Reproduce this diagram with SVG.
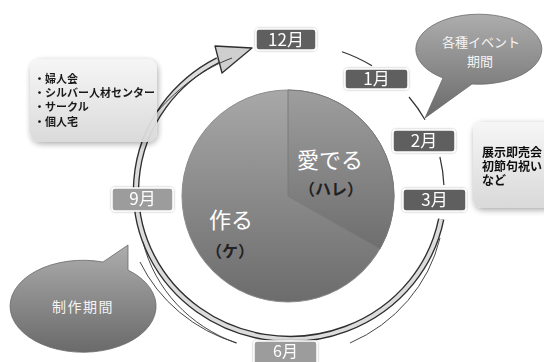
<svg xmlns="http://www.w3.org/2000/svg" width="544" height="362" viewBox="0 0 544 362">
<defs>
<linearGradient id="pieG" x1="0" y1="0" x2="0" y2="1">
<stop offset="0" stop-color="#a8a8a8"/><stop offset="1" stop-color="#6c6c6c"/>
</linearGradient>
<linearGradient id="sliceG" x1="0" y1="0" x2="0" y2="1">
<stop offset="0" stop-color="#9e9e9e"/><stop offset="1" stop-color="#6e6e6e"/>
</linearGradient>
<linearGradient id="bubG" x1="0" y1="0" x2="0" y2="1">
<stop offset="0" stop-color="#adadad"/><stop offset="1" stop-color="#6a6a6a"/>
</linearGradient>
<linearGradient id="boxG" x1="0" y1="0" x2="0" y2="1">
<stop offset="0" stop-color="#f6f6f6"/><stop offset="1" stop-color="#d9d9d9"/>
</linearGradient>
<filter id="soft" x="-20%" y="-20%" width="140%" height="140%">
<feGaussianBlur in="SourceAlpha" stdDeviation="3"/>
<feOffset dx="1" dy="2"/>
<feComponentTransfer><feFuncA type="linear" slope="0.35"/></feComponentTransfer>
<feMerge><feMergeNode/><feMergeNode in="SourceGraphic"/></feMerge>
</filter>
<filter id="lsh" x="-20%" y="-30%" width="140%" height="160%">
<feGaussianBlur in="SourceAlpha" stdDeviation="1"/>
<feComponentTransfer><feFuncA type="linear" slope="0.35"/></feComponentTransfer>
<feMerge><feMergeNode/><feMergeNode in="SourceGraphic"/></feMerge>
</filter>
</defs>
<style>
text{font-family:"Noto Sans CJK JP","Noto Sans",sans-serif}
.lab rect{stroke:#ffffff;stroke-width:1.5}
.dk rect{fill:#5f5f5f}
.lt rect{fill:#9c9c9c}
.lab text{fill:#ffffff;font-size:17px;text-anchor:middle}
.seg{fill:none;stroke:#333333;stroke-width:1.2}
.sk{fill:none;stroke:#333333;stroke-width:0.9}
.bub path{fill:url(#bubG);stroke:#6a6a6a;stroke-width:0.8}
.bub text{fill:#f4f4f4;text-anchor:middle}
.box rect{fill:url(#boxG)}
.box text{font-family:"Liberation Sans","Noto Sans CJK JP",sans-serif;font-weight:bold;fill:#111111}
.pt{fill:#ffffff;font-size:22px;text-anchor:middle}
.ps{fill:#222222;font-size:16px;font-weight:bold;text-anchor:middle}
</style>

<g id="pie">
<circle cx="288" cy="196" r="106" fill="url(#pieG)" stroke="#8c8c8c" stroke-width="1"/>
<path d="M288 196 L288 90 A106 106 0 0 1 379.8 249 Z" fill="url(#sliceG)" stroke="#7a7a7a" stroke-width="1"/>
<text class="pt" x="330" y="168">愛でる</text>
<text class="ps" x="331" y="195">（ハレ）</text>
<text class="pt" x="231" y="228">作る</text>
<text class="ps" x="230" y="257">（ケ）</text>
</g>

<g id="connectors">
<path class="seg" d="M342 51.7 A154 148 0 0 1 372 65.7"/>
<path class="seg" d="M409 97 A154 148 0 0 1 425 119.7"/>
<path class="seg" d="M439.9 157 A154 148 0 0 1 443.9 185"/>
<path d="M441.2 219.2 A154 148 0 1 1 217.9 60.2" fill="none" stroke="#2e2e2e" stroke-width="6.5"/>
<path d="M441.2 219.2 A154 148 0 1 1 217.9 60.2" fill="none" stroke="#dcdcdc" stroke-width="3.8"/>
<polygon points="252,48 215,46 222,73" fill="#cfcfcf" stroke="#2e2e2e" stroke-width="1.3" stroke-linejoin="round"/>
<path class="sk" d="M440 238 A160 153 0 0 1 350 343"/>
<path class="sk" d="M237 343 A160 153 0 0 1 140 262"/>
<path class="sk" d="M143 242 C155 290 190 326 236 343"/>
<path class="sk" d="M157 112 C180 86 205 68 232 58"/>
</g>

<g id="box-left" class="box" filter="url(#soft)" opacity="0.95">
<rect x="30" y="59" width="127" height="83" rx="10"/>
<text style="font-size:11px"><tspan x="34" y="83">・婦人会</tspan><tspan x="34" y="97">・シルバー人材センター</tspan><tspan x="34" y="111">・サークル</tspan><tspan x="34" y="126">・個人宅</tspan></text>
</g>

<g id="box-right" class="box" filter="url(#soft)">
<rect x="473" y="122" width="80" height="86" rx="9"/>
<text style="font-size:12px"><tspan x="482" y="157">展示即売会</tspan><tspan x="482" y="171">初節句祝い</tspan><tspan x="482" y="185">など</tspan></text>
</g>

<g id="bubble-event" class="bub">
<path d="M443 78 L425 118 L472 84 A63 35 0 1 0 443 78 Z"/>
<text style="font-size:13px"><tspan x="481" y="47">各種イベント</tspan><tspan x="480" y="66">期間</tspan></text>
</g>

<g id="bubble-make" class="bub">
<path d="M103 262 L128 245 L128 270 A73 46 0 1 1 103 262 Z"/>
<text x="83" y="312" style="font-size:14px;letter-spacing:1.5px">制作期間</text>
</g>

<g id="m12" class="lab dk" filter="url(#lsh)">
<rect x="256" y="29" width="60" height="21" rx="3"/>
<text x="286" y="45.5">12月</text>
</g>
<g id="m1" class="lab dk" filter="url(#lsh)">
<rect x="345" y="69" width="63" height="20" rx="3"/>
<text x="376.5" y="85">1月</text>
</g>
<g id="m2" class="lab dk" filter="url(#lsh)">
<rect x="393" y="130" width="62" height="22" rx="3"/>
<text x="424" y="147">2月</text>
</g>
<g id="m3" class="lab dk" filter="url(#lsh)">
<rect x="403" y="189" width="63" height="22" rx="3"/>
<text x="434.5" y="206">3月</text>
</g>
<g id="m6" class="lab lt" filter="url(#lsh)">
<rect x="254" y="341" width="63" height="24" rx="3"/>
<text x="285.5" y="357" style="font-size:16px">6月</text>
</g>
<g id="m9" class="lab lt" filter="url(#lsh)">
<rect x="112" y="188" width="61" height="23" rx="3"/>
<text x="142.5" y="205">9月</text>
</g>
</svg>
